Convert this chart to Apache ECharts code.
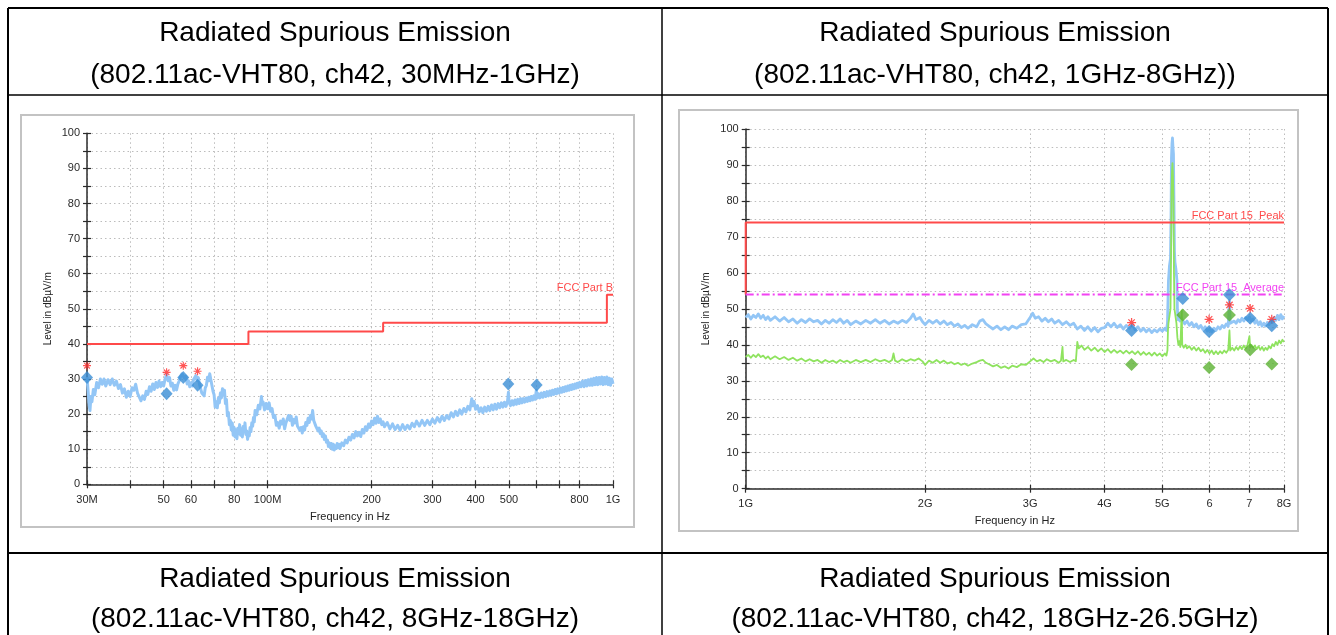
<!DOCTYPE html>
<html>
<head>
<meta charset="utf-8">
<title>Radiated Spurious Emission</title>
<script src="https://cdn.jsdelivr.net/npm/echarts@6.0.0/dist/echarts.min.js"></script>
<style>
  html, body { margin: 0; padding: 0; background: #ffffff; }
  #chart { width: 1336px; height: 635px; }
</style>
</head>
<body>
<div id="chart"></div>
<script>
// ---- Table headings ----
const headingTitle = 'Radiated Spurious Emission';
const headingRanges = [
  '(802.11ac-VHT80, ch42, 30MHz-1GHz)',
  '(802.11ac-VHT80, ch42, 1GHz-8GHz))',
  '(802.11ac-VHT80, ch42, 8GHz-18GHz)',
  '(802.11ac-VHT80, ch42, 18GHz-26.5GHz)'
];

// ---- 30 MHz - 1 GHz scan (frequency in MHz, level in dBµV/m) ----
const lowTickMHz = [30, 40, 50, 60, 70, 80, 100, 200, 300, 400, 500, 600, 700, 800, 1000];
const lowLabelMHz = [30, 50, 60, 80, 100, 200, 300, 400, 500, 800, 1000];
const lowLabelText = ['30M', '50', '60', '80', '100M', '200', '300', '400', '500', '800', '1G'];
const lowLimitName = 'FCC Part B';
const lowLimit = [[30, 40], [88, 40], [88, 43.5], [216, 43.5], [216, 46], [960, 46], [960, 54], [1000, 54]];
const lowPeakMarks = [[30, 33.8], [51, 31.9], [57, 33.8], [62.7, 32.2]];
const lowFinalMarks = [[30, 30.4], [51, 25.8], [57, 30.4], [62.7, 28.2], [497.6, 28.6], [601, 28.3]];
const lowTrace = [
  [30,30.5],[30.2,27],[30.4,23],[30.6,21],[30.8,25],[31,23.5],[31.3,27],[31.6,25.5],[32,29],[32.4,27.5],
  [32.8,30],[33.2,28.5],[33.6,30],[34,28],[34.5,29.8],[35,28.4],[35.5,30],[36,28.2],[36.5,29.4],[37,27.3],
  [37.5,28.4],[38,26],[38.5,27.2],[39,24.8],[39.5,26.5],[40,25],[40.5,27.5],[41,26.8],[41.5,28.5],[42,26],
  [42.5,25.5],[43,23.8],[43.5,25.2],[44,24.2],[44.5,26.5],[45,25.6],[45.5,27.8],[46,26.5],[46.5,28.6],[47,27],
  [47.5,29],[48,27.6],[48.5,29.4],[49,27.8],[49.5,29],[50,28],[50.5,30],[51,31.2],[51.5,29.5],[52,30.4],
  [52.5,28],[53,28.8],[53.5,26.8],[54,28.2],[54.5,26.9],[55,28.6],[55.5,29.5],[56,30.8],[56.5,31.5],[57,32],
  [57.5,30.2],[58,30.8],[58.5,28.6],[59,29.5],[59.5,27.8],[60,28.9],[60.5,28],[61,29.8],[61.5,29.4],[62,31],
  [62.5,29.6],[63,30.4],[63.5,28.5],[64,28.3],[64.5,26],[65,26.4],[65.5,25.2],[66,27.5],[66.5,28.2],[67,30.5],
  [67.5,29.5],[68,31.5],[68.5,29.8],[69,30],[69.5,26.5],[70,25.5],[70.5,22],[71,23.5],[71.5,21.8],[72,24.5],
  [72.5,23.2],[73,26],[73.5,24.6],[74,27.2],[74.5,25.5],[75,26.8],[75.5,23],[76,24.2],[76.5,19.5],[77,20.5],
  [77.5,17],[78,18.2],[78.5,15.5],[79,17.5],[79.5,14],[80,16.2],[80.5,13.5],[81,15.5],[81.5,13],[82,16],
  [82.5,14.4],[83,17],[83.5,14],[84,15.8],[84.5,13.5],[85,16.5],[85.5,15],[86,17.5],[86.5,14.2],[87,15.2],
  [87.5,12.8],[88,14.5],[88.5,13.8],[89,16.2],[89.5,15],[90,17.5],[90.5,16.5],[91,19],[91.5,17.8],[92,21],
  [93,19.8],[94,22.5],[95,21.5],[96,25],[96.5,22.8],[97,23.5],[98,21.2],[99,23],[100,21.5],[101,23.2],
  [102,20.8],[103,21.6],[104,19],[105,19.6],[106,16.8],[107,17.6],[108,16],[109,18],[110,17.2],[111,18.6],
  [112,15.8],[113,17.5],[114,17.8],[115,19.6],[116,18.2],[117,19.4],[118,16.8],[119,18.5],[120,17.5],[121,19.2],
  [122,16.6],[123,17],[124,15.4],[125,16.2],[126,14.6],[127,16.4],[128,15.5],[129,17.6],[130,16.8],[131,18.8],
  [132,17.6],[133,19.6],[134,18.6],[135,21],[136,18.2],[137,18.6],[138,16.5],[139,17],[140,15.2],[141,16],
  [142,14.5],[143,15.2],[144,13.6],[145,14.4],[146,12.8],[147,13.8],[148,12],[149,12.6],[150,10.8],[151,11.8],
  [152,10.4],[153,11.6],[154,10],[155,11.4],[156,9.8],[157,11],[158,10.2],[159,11.6],[160,10.4],[161,11.4],
  [162,10.2],[164,11.8],[166,11],[168,12.6],[170,11.8],[172,13.4],[174,12.6],[176,14.2],[178,13.2],[180,15],
  [182,13.8],[184,14.8],[186,13.6],[188,15.6],[190,14.6],[192,16.4],[194,15.4],[196,17.2],[198,16.2],[200,18],
  [202,17],[204,18.8],[206,17.4],[208,19.4],[210,17.6],[212,18.6],[214,17],[216,17.8],[218,16.4],[222,17.6],
  [226,15.8],[230,17.2],[234,15.6],[238,16.8],[242,15.4],[246,17],[250,15.6],[254,16.8],[258,15.8],[262,17.4],
  [266,16.4],[270,18],[275,16.6],[280,18.2],[285,16.8],[290,18.2],[295,17],[300,18.6],[305,17.4],[310,19],
  [315,17.8],[320,19.4],[325,18.2],[330,19.6],[335,18.6],[340,20.4],[345,19.2],[350,20.8],[355,19.6],[360,21.2],
  [365,20],[370,21.6],[375,20.6],[380,22.2],[385,21.2],[390,24.4],[393,22.4],[396,23.6],[400,21.4],[405,22.4],
  [410,20.6],[415,21.8],[420,20.4],[425,22],[430,20.8],[435,22.2],[440,21],[445,22.6],[450,21.2],[455,22.8],
  [460,21.4],[465,23],[470,21.8],[475,23.2],[480,22],[485,23.4],[490,22.2],[495,23.6],[498,26.2],[500,23.4],
  [505,22.4],[510,23.8],[515,22.6],[520,24],[525,22.8],[530,24.2],[535,23],[540,24.4],[545,23.2],[550,24.4],
  [555,23.4],[560,24.6],[565,23.6],[570,24.8],[575,23.8],[580,25],[585,24],[590,25.2],[595,24.2],[600,26.8],
  [603,24.6],[608,25.8],[614,24.6],[620,26],[626,24.8],[632,26.2],[638,25],[644,26.4],[650,25.2],[656,26.6],
  [662,25.4],[668,26.8],[674,25.6],[680,27],[686,25.8],[692,27.2],[698,26],[704,27.4],[710,26.2],[716,27.6],
  [722,26.4],[728,27.8],[734,26.6],[740,28],[746,26.8],[752,28.2],[758,27],[764,28.4],[770,27.2],[776,28.6],
  [782,27.4],[788,28.8],[794,27.6],[800,29],[808,27.8],[816,29.4],[824,27.8],[832,29.6],[840,28],[848,29.8],
  [856,28.2],[864,30],[872,28.2],[880,30.2],[888,28.4],[896,30.4],[904,28.4],[912,30.4],[920,28.6],[928,30.6],
  [936,28.4],[944,30.4],[952,28.6],[960,30.6],[968,28.4],[976,30.2],[984,28.2],[992,30],[1000,28.6]
];

// ---- 1 GHz - 8 GHz scan (frequency in GHz, level in dBµV/m) ----
const highTickGHz = [1, 2, 3, 4, 5, 6, 7, 8];
const highLabelText = ['1G', '2G', '3G', '4G', '5G', '6', '7', '8G'];
const peakLimitName = 'FCC Part 15  Peak';
const avgLimitName = 'FCC Part 15  Average';
const peakLimit = [[1, 54], [1, 74], [8, 74]];
const avgLimit = [[1, 54], [8, 54]];
const highPeakMarks = [[4.44, 46.2], [5.99, 47.1], [6.48, 51.1], [7.02, 50.1], [7.63, 47.1]];
const highFinalPeak = [[4.44, 44], [5.41, 52.9], [5.99, 43.7], [6.48, 53.9], [7.02, 47.4], [7.63, 45.3]];
const highFinalAvg = [[4.44, 34.5], [5.41, 48.3], [5.99, 33.7], [6.48, 48.3], [7.02, 38.6], [7.63, 34.7]];
const highPeakTrace = [
  [1.0,47.6],[1.01,48.4],[1.02,47.2],[1.03,48.2],[1.04,47.6],[1.05,48.6],[1.06,47.4],[1.07,48.2],[1.08,47],[1.09,47.8],
  [1.1,46.8],[1.12,47.8],[1.14,46.6],[1.16,47.6],[1.18,46.4],[1.2,47.2],[1.22,46],[1.24,47],[1.26,46.2],[1.28,47.2],
  [1.3,46.4],[1.32,46.8],[1.34,45.8],[1.36,46.8],[1.38,46],[1.4,47],[1.42,46.2],[1.44,47.2],[1.46,46],[1.48,46.8],
  [1.5,45.6],[1.53,46.6],[1.56,45.8],[1.59,46.8],[1.62,46],[1.65,47],[1.68,46],[1.71,46.8],[1.74,45.8],[1.77,46.6],
  [1.8,46],[1.83,46.8],[1.86,46.2],[1.89,47.4],[1.91,48.6],[1.93,47],[1.96,47.6],[1.98,46.4],[2.0,45.6],[2.03,46.8],
  [2.06,46],[2.09,46.8],[2.12,45.8],[2.15,46.6],[2.18,45.6],[2.21,46.2],[2.24,45.2],[2.27,45.8],[2.3,44.8],[2.33,45.4],
  [2.36,44.6],[2.4,45.6],[2.44,45],[2.47,46.6],[2.5,47],[2.53,45.8],[2.56,45.2],[2.6,44.4],[2.64,45.2],[2.68,44.2],
  [2.72,45],[2.76,44.2],[2.8,45.2],[2.85,44.6],[2.9,45.6],[2.95,45.8],[3.0,47.6],[3.03,48.8],[3.06,47.4],[3.1,47.8],
  [3.14,46.6],[3.18,47.4],[3.22,46.4],[3.26,47.2],[3.3,46],[3.35,46.8],[3.4,45.6],[3.45,46.4],[3.5,45.4],[3.55,46],
  [3.6,44.4],[3.65,45.2],[3.7,44],[3.75,45],[3.8,43.8],[3.85,44.8],[3.9,43.6],[3.95,44.6],[4.0,44.8],[4.05,46],
  [4.1,45],[4.15,46],[4.2,44.8],[4.25,45.6],[4.3,44.4],[4.35,45.4],[4.4,44.6],[4.45,45.6],[4.5,44.2],[4.55,45],
  [4.6,43.8],[4.65,44.6],[4.7,43.6],[4.75,44.4],[4.8,43.4],[4.85,44.2],[4.9,43.6],[4.95,44.4],[5.0,43.8],[5.05,44.6],
  [5.08,44],[5.1,46],[5.11,52],[5.12,58],[5.14,62],[5.16,64],[5.17,75],[5.18,92],[5.19,96],[5.2,97.5],
  [5.21,95],[5.22,93],[5.23,80],[5.24,66],[5.25,63],[5.27,61],[5.29,58],[5.3,50],[5.31,47],[5.33,48],
  [5.35,46.6],[5.38,47.4],[5.41,46.8],[5.45,45.8],[5.5,46.6],[5.55,45.4],[5.6,46.2],[5.65,45],[5.7,45.8],[5.75,44.6],
  [5.8,45.4],[5.85,44.2],[5.9,45],[5.95,43.8],[6.0,44.4],[6.05,43.6],[6.1,44.6],[6.15,44],[6.2,45],[6.25,44.4],
  [6.3,45.4],[6.35,44.8],[6.4,45.8],[6.45,45.2],[6.48,52.4],[6.5,46],[6.55,45.6],[6.6,46.6],[6.65,46],[6.7,47],
  [6.75,46.4],[6.8,47.4],[6.85,46.6],[6.9,47.6],[6.95,46.8],[7.0,47.8],[7.05,46.6],[7.1,47.2],[7.15,46],[7.2,46.8],
  [7.25,45.6],[7.3,46.4],[7.35,45.2],[7.4,46],[7.45,45.2],[7.5,46.2],[7.55,45.6],[7.6,46.8],[7.65,46.2],[7.7,47.6],
  [7.75,46.8],[7.8,48.2],[7.85,47],[7.9,48.4],[7.95,47.2],[8.0,48]
];
const highAvgTrace = [
  [1.0,36.6],[1.01,37.2],[1.02,36.4],[1.03,37.2],[1.04,36.6],[1.05,37.4],[1.06,36.6],[1.07,37],[1.08,36.2],[1.09,36.8],
  [1.1,36],[1.12,36.8],[1.14,36],[1.16,36.6],[1.18,35.8],[1.2,36.4],[1.22,35.6],[1.24,36.2],[1.26,35.4],[1.28,36],
  [1.3,35.4],[1.32,35.8],[1.34,35],[1.36,35.8],[1.38,35.2],[1.4,35.6],[1.42,35],[1.44,35.8],[1.46,35.2],[1.48,35.6],
  [1.5,35],[1.53,35.8],[1.56,35.2],[1.59,35.8],[1.62,35.2],[1.65,36],[1.68,35.4],[1.71,35.8],[1.74,35.2],[1.76,35.8],
  [1.77,37.6],[1.78,35.6],[1.8,35.2],[1.83,36],[1.86,35.4],[1.89,36],[1.92,35.6],[1.95,36.2],[1.98,35.4],[2.0,34.4],
  [2.03,35.6],[2.06,35],[2.09,35.8],[2.12,35],[2.15,35.6],[2.18,34.8],[2.21,35.2],[2.24,34.6],[2.27,35],[2.3,34.4],
  [2.33,34.8],[2.36,34.2],[2.4,34.8],[2.44,35.2],[2.47,35.6],[2.5,35.8],[2.53,35],[2.56,34.6],[2.6,34],[2.64,34.4],
  [2.68,33.6],[2.72,34],[2.76,33.4],[2.8,34.2],[2.85,33.8],[2.9,34.6],[2.95,34.4],[3.0,35.4],[3.04,36.2],[3.08,35.4],
  [3.12,35.8],[3.16,35.2],[3.2,36],[3.25,35.4],[3.3,35.8],[3.35,35],[3.38,35.6],[3.4,39.4],[3.41,35.4],[3.45,35.8],
  [3.5,35.2],[3.55,35.8],[3.58,35.4],[3.6,40.8],[3.62,39],[3.66,39.8],[3.7,38.6],[3.75,39.4],[3.8,38.4],[3.85,39.2],
  [3.9,38.2],[3.95,39],[4.0,38],[4.05,38.8],[4.1,37.8],[4.15,38.6],[4.2,37.8],[4.25,38.4],[4.3,37.6],[4.35,38.4],
  [4.4,37.6],[4.45,38.2],[4.5,37.4],[4.55,38.2],[4.6,37.2],[4.65,38],[4.7,37.2],[4.75,37.8],[4.8,37],[4.85,37.8],
  [4.9,37],[4.95,37.6],[5.0,36.8],[5.05,37.6],[5.08,37],[5.1,38.5],[5.11,44],[5.12,46],[5.14,48],[5.16,50],
  [5.17,62],[5.18,82],[5.19,88],[5.2,90.5],[5.21,87],[5.22,80],[5.23,60],[5.24,50],[5.26,48],[5.28,46],
  [5.3,42],[5.32,40],[5.34,41],[5.36,39.4],[5.39,49.6],[5.4,40],[5.43,39.2],[5.47,40],[5.5,39],[5.55,39.6],
  [5.6,38.6],[5.65,39.4],[5.7,38.4],[5.75,39.2],[5.8,38.2],[5.85,38.8],[5.9,37.8],[5.95,38.6],[6.0,37.6],[6.05,38.4],
  [6.1,37.4],[6.15,38.2],[6.2,37.4],[6.25,38.2],[6.3,37.6],[6.35,38.4],[6.4,37.8],[6.45,38.6],[6.48,44],[6.5,38.4],
  [6.55,39.2],[6.6,38.4],[6.65,39.4],[6.7,38.6],[6.75,39.6],[6.8,38.8],[6.85,39.8],[6.9,39],[6.95,40],[7.0,42.4],
  [7.02,39.2],[7.05,40],[7.1,39.2],[7.15,39.8],[7.2,38.8],[7.25,39.6],[7.3,38.6],[7.35,39.4],[7.4,38.4],[7.45,39.2],
  [7.5,38.6],[7.55,39.6],[7.6,39],[7.65,40.2],[7.7,39.6],[7.75,40.8],[7.8,40],[7.85,41.2],[7.9,40.4],[7.95,41.4],
  [8.0,40.8]
];

// ---- Styling ----
const FONT = '"Liberation Sans", Arial, Helvetica, sans-serif';
const AXIS_COLOR = '#2b2b2b';
const LABEL_COLOR = '#2a2a2a';
const GRID_LINE = { color: '#bcbcbc', width: 1, type: [1.5, 3] };
const TRACE_BLUE = '#93c6f6';
const TRACE_GREEN = '#8fe35f';
const MARK_BLUE = '#3a8dd5';
const MARK_GREEN = '#5bb232';
const MARK_RED = '#ff2b2b';
const LIMIT_RED = '#ff4a4a';
const LIMIT_MAGENTA = '#f243f2';
// eight-spoke asterisk used for the peak readings
const ASTERISK = 'path://M-5 -0.7L5 -0.7L5 0.7L-5 0.7Z' +
  'M-0.7 -5L0.7 -5L0.7 5L-0.7 5Z' +
  'M-4.031 -3.041L-3.041 -4.031L4.031 3.041L3.041 4.031Z' +
  'M3.041 -4.031L4.031 -3.041L-3.041 4.031L-4.031 3.041Z';

const lg = (pts) => pts.map(([f, v]) => [Math.log10(f), v]);

function freqAxis(gridIndex, minF, maxF, ticks, labelVals, labelText) {
  const tickLog = ticks.map(Math.log10);
  const labelLog = labelVals.map(Math.log10);
  const fmt = (v) => {
    for (let i = 0; i < labelLog.length; i++) {
      if (Math.abs(labelLog[i] - v) < 1e-6) return labelText[i];
    }
    return '';
  };
  return [{
    type: 'value', gridIndex, min: Math.log10(minF), max: Math.log10(maxF), position: 'bottom',
    axisLine: { show: true, onZero: false, lineStyle: { color: AXIS_COLOR, width: 1.5 } },
    axisTick: { show: true, length: 4, customValues: tickLog, lineStyle: { color: AXIS_COLOR, width: 1.2 } },
    axisLabel: { customValues: labelLog, formatter: fmt, margin: 10, color: LABEL_COLOR, fontSize: 11, fontFamily: FONT },
    splitLine: { show: true, lineStyle: GRID_LINE },
    name: 'Frequency in Hz', nameLocation: 'middle', nameGap: 27,
    nameTextStyle: { color: '#222', fontSize: 11, fontFamily: FONT, verticalAlign: 'top' }
  }, {
    // inner half of the crossing tick marks
    type: 'value', gridIndex, min: Math.log10(minF), max: Math.log10(maxF), position: 'bottom',
    axisLine: { show: false, onZero: false },
    axisTick: { show: true, inside: true, length: 4, customValues: tickLog, lineStyle: { color: AXIS_COLOR, width: 1.2 } },
    axisLabel: { show: false }, splitLine: { show: false }
  }];
}

function levelAxis(gridIndex) {
  return [{
    type: 'value', gridIndex, min: 0, max: 100, interval: 5, position: 'left',
    axisLine: { show: true, onZero: false, lineStyle: { color: AXIS_COLOR, width: 1.5 } },
    axisTick: { show: true, length: 4, lineStyle: { color: AXIS_COLOR, width: 1.2 } },
    axisLabel: { formatter: (v) => (v % 10 === 0 ? String(v) : ''), margin: 7, color: LABEL_COLOR, fontSize: 11, fontFamily: FONT },
    splitLine: { show: true, lineStyle: GRID_LINE },
    name: 'Level in dBµV/m', nameLocation: 'middle', nameGap: 34, nameRotate: 90,
    nameTextStyle: { color: '#222', fontSize: 10, fontFamily: FONT }
  }, {
    // inner half of the crossing tick marks
    type: 'value', gridIndex, min: 0, max: 100, interval: 5, position: 'left', offset: 0,
    axisLine: { show: false, onZero: false },
    axisTick: { show: true, inside: true, length: 4, lineStyle: { color: AXIS_COLOR, width: 1.2 } },
    axisLabel: { show: false }, splitLine: { show: false }
  }];
}

function traceSeries(x, y, pts, color, width) {
  return { type: 'line', xAxisIndex: x, yAxisIndex: y, data: lg(pts), symbol: 'none', silent: true,
    lineStyle: { color, width, join: 'round' }, z: 2 };
}
function limitSeries(x, y, pts, color, type, name) {
  return { type: 'line', xAxisIndex: x, yAxisIndex: y, data: lg(pts), symbol: 'none', silent: true,
    lineStyle: { color, width: 2, type }, z: 3,
    endLabel: { show: true, formatter: name, color, fontSize: 11, fontFamily: FONT,
      align: 'right', verticalAlign: 'bottom', distance: 0, offset: [0, -1] } };
}
function markSeries(x, y, pts, symbol, size, color, z) {
  return { type: 'scatter', xAxisIndex: x, yAxisIndex: y, data: lg(pts), symbol, symbolSize: size,
    itemStyle: { color }, silent: true, z };
}

// ---- Table frame and headings ----
const graphic = [];
const hLine = (y, w) => ({ type: 'line', shape: { x1: 8, y1: y, x2: 1328, y2: y }, style: { stroke: '#000', lineWidth: w }, z: 10 });
const vLine = (x, w) => ({ type: 'line', shape: { x1: x, y1: 8, x2: x, y2: 640 }, style: { stroke: '#000', lineWidth: w }, z: 10 });
graphic.push(hLine(8, 2), hLine(95, 1.5), hLine(553, 2), vLine(8, 2), vLine(662, 1.5), vLine(1328, 2));
const headingCells = [[335, 33, 75, 0], [995, 33, 75, 1], [335, 579, 619, 2], [995, 579, 619, 3]];
headingCells.forEach(([cx, y1, y2, i]) => {
  graphic.push({ type: 'text', x: cx, y: y1, z: 10, style: { text: headingTitle, align: 'center', verticalAlign: 'middle', fill: '#000', fontSize: 28, fontFamily: FONT } });
  graphic.push({ type: 'text', x: cx, y: y2, z: 10, style: { text: headingRanges[i], align: 'center', verticalAlign: 'middle', fill: '#000', fontSize: 28, fontFamily: FONT } });
});
// plot image frames
graphic.push({ type: 'rect', shape: { x: 21, y: 115, width: 613, height: 412 }, style: { fill: 'none', stroke: '#c3c3c3', lineWidth: 2 }, z: 0 });
graphic.push({ type: 'rect', shape: { x: 679, y: 110, width: 619, height: 421 }, style: { fill: 'none', stroke: '#c3c3c3', lineWidth: 2 }, z: 0 });

const lowX = freqAxis(0, 30, 1000, lowTickMHz, lowLabelMHz, lowLabelText);
const highX = freqAxis(1, 1, 8, highTickGHz, highTickGHz, highLabelText);

const option = {
  animation: false,
  backgroundColor: '#ffffff',
  textStyle: { fontFamily: FONT },
  graphic,
  grid: [
    { left: 87, top: 133.3, width: 526, height: 351 },
    { left: 745.7, top: 129, width: 538.3, height: 359.7 }
  ],
  xAxis: [...lowX, ...highX],
  yAxis: [...levelAxis(0), ...levelAxis(1)],
  series: [
    traceSeries(0, 0, lowTrace, TRACE_BLUE, 3),
    limitSeries(0, 0, lowLimit, LIMIT_RED, 'solid', lowLimitName),
    markSeries(0, 0, lowPeakMarks, ASTERISK, 8, MARK_RED, 4),
    markSeries(0, 0, lowFinalMarks, 'diamond', [12, 13], MARK_BLUE, 5),

    traceSeries(2, 2, highPeakTrace, TRACE_BLUE, 2.8),
    traceSeries(2, 2, highAvgTrace, TRACE_GREEN, 1.8),
    limitSeries(2, 2, peakLimit, LIMIT_RED, 'solid', peakLimitName),
    limitSeries(2, 2, avgLimit, LIMIT_MAGENTA, [8, 3, 2, 3], avgLimitName),
    markSeries(2, 2, highPeakMarks, ASTERISK, 9, MARK_RED, 4),
    markSeries(2, 2, highFinalPeak, 'diamond', [13, 13], MARK_BLUE, 5),
    markSeries(2, 2, highFinalAvg, 'diamond', [13, 13], MARK_GREEN, 5)
  ]
};

const chart = echarts.init(document.getElementById('chart'), null, { renderer: 'canvas' });
chart.setOption(option);
</script>
</body>
</html>
